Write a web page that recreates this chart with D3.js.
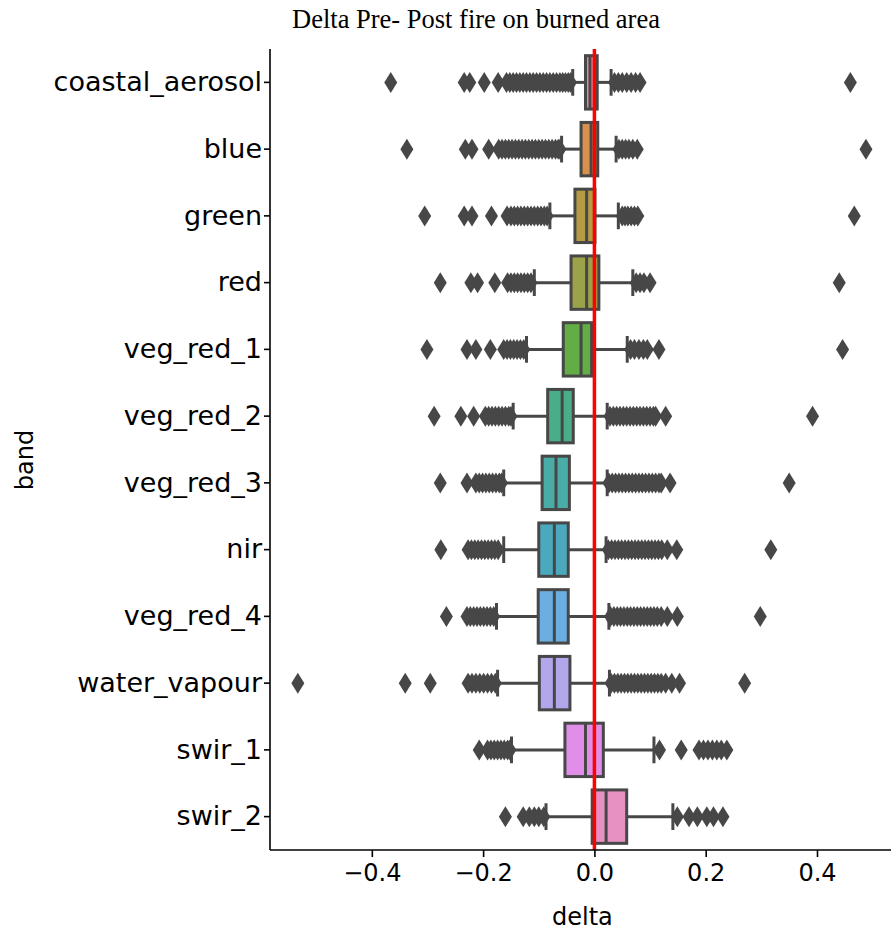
<!DOCTYPE html>
<html>
<head>
<meta charset="utf-8">
<script src="https://cdn.jsdelivr.net/npm/d3@7"></script>
<style>
  body { margin: 0; background: #fff; }
  text { font-family: "DejaVu Sans", sans-serif; }
</style>
</head>
<body>
<div id="chart"></div>
<script>
// band order top to bottom
var bands = ["coastal_aerosol", "blue", "green", "red", "veg_red_1", "veg_red_2",
  "veg_red_3", "nir", "veg_red_4", "water_vapour", "swir_1", "swir_2"];

var boxColors = ["#e38b99", "#d8904f", "#b59a46", "#9ca24a", "#62ad45", "#48ad88",
  "#4aaca6", "#4aa9bd", "#6aaee2", "#b3a6ea", "#e08ee9", "#e791c2"];

var whiskerLow  = [-0.039, -0.059, -0.080, -0.108, -0.122, -0.146, -0.163, -0.163, -0.176, -0.174, -0.149, -0.087];
var q1          = [-0.016, -0.024, -0.035, -0.042, -0.056, -0.084, -0.094, -0.100, -0.101, -0.099, -0.053, -0.004];
var medians     = [-0.008, -0.006, -0.014, -0.014, -0.024, -0.058, -0.069, -0.072, -0.072, -0.072, -0.016, 0.021];
var q3          = [0.005, 0.006, 0.001, 0.008, -0.005, -0.038, -0.045, -0.047, -0.047, -0.044, 0.016, 0.058];
var whiskerHigh = [0.030, 0.039, 0.043, 0.069, 0.059, 0.023, 0.023, 0.021, 0.026, 0.027, 0.107, 0.141];

var outliers = [
  [-0.366, -0.234, -0.224, -0.198, -0.173, -0.158, -0.152, -0.146, -0.140, -0.134, -0.128, -0.122, -0.116, -0.110,
   -0.104, -0.098, -0.092, -0.086, -0.080, -0.074, -0.068, -0.062, -0.057, -0.052, -0.047, -0.043,
   0.036, 0.043, 0.050, 0.058, 0.066, 0.074, 0.082, 0.460],
  [-0.337, -0.232, -0.220, -0.190, -0.172, -0.166, -0.160, -0.154, -0.148, -0.142, -0.136, -0.130, -0.124, -0.118,
   -0.112, -0.106, -0.100, -0.094, -0.088, -0.082, -0.076, -0.070, -0.065, -0.062,
   0.044, 0.050, 0.056, 0.062, 0.069, 0.077, 0.488],
  [-0.305, -0.234, -0.220, -0.185, -0.157, -0.150, -0.144, -0.138, -0.132, -0.126, -0.120, -0.114, -0.108, -0.102,
   -0.096, -0.090, -0.085, 0.050, 0.055, 0.060, 0.066, 0.072, 0.078, 0.467],
  [-0.277, -0.222, -0.210, -0.179, -0.156, -0.150, -0.144, -0.138, -0.132, -0.126, -0.120, -0.114,
   0.075, 0.082, 0.089, 0.100, 0.440],
  [-0.301, -0.229, -0.213, -0.187, -0.163, -0.157, -0.151, -0.145, -0.139, -0.133, -0.127,
   0.065, 0.072, 0.080, 0.088, 0.095, 0.116, 0.446],
  [-0.288, -0.240, -0.217, -0.196, -0.190, -0.184, -0.178, -0.172, -0.166, -0.160, -0.154, -0.150,
   0.028, 0.034, 0.040, 0.046, 0.052, 0.058, 0.064, 0.070, 0.076, 0.082, 0.088, 0.094, 0.100, 0.106, 0.110,
   0.128, 0.392],
  [-0.277, -0.229, -0.213, -0.207, -0.201, -0.195, -0.189, -0.183, -0.177, -0.171, -0.167,
   0.026, 0.032, 0.038, 0.044, 0.050, 0.056, 0.062, 0.068, 0.074, 0.080, 0.086, 0.092, 0.098, 0.104, 0.110,
   0.116, 0.120, 0.136, 0.350],
  [-0.276, -0.227, -0.221, -0.215, -0.209, -0.203, -0.197, -0.191, -0.185, -0.179, -0.173,
   0.025, 0.031, 0.037, 0.043, 0.049, 0.055, 0.061, 0.067, 0.073, 0.079, 0.085, 0.091, 0.097, 0.103, 0.109,
   0.115, 0.121, 0.131, 0.148, 0.317],
  [-0.266, -0.229, -0.223, -0.217, -0.211, -0.205, -0.199, -0.193, -0.187, -0.181,
   0.029, 0.035, 0.041, 0.047, 0.053, 0.059, 0.065, 0.071, 0.077, 0.083, 0.089, 0.095, 0.101, 0.107, 0.113,
   0.120, 0.131, 0.149, 0.298],
  [-0.533, -0.340, -0.295, -0.227, -0.220, -0.213, -0.206, -0.199, -0.192, -0.185, -0.178,
   0.030, 0.036, 0.042, 0.048, 0.054, 0.060, 0.066, 0.072, 0.078, 0.084, 0.090, 0.096, 0.102, 0.108, 0.114,
   0.120, 0.128, 0.139, 0.153, 0.270],
  [-0.207, -0.192, -0.186, -0.180, -0.174, -0.168, -0.162, -0.156, -0.152,
   0.117, 0.156, 0.188, 0.196, 0.204, 0.212, 0.220, 0.228, 0.238],
  [-0.160, -0.128, -0.117, -0.108, -0.100, -0.091,
   0.149, 0.170, 0.185, 0.202, 0.214, 0.231]
];

var xTicks = [-0.4, -0.2, 0.0, 0.2, 0.4];

var W = 891, H = 933;
var m = {top: 49, right: 0, bottom: 83, left: 270};
var edge = "#474747";

var svg = d3.select("#chart").append("svg")
  .attr("width", W)
  .attr("height", H);

var x = d3.scaleLinear().domain([-0.583, 0.533]).range([m.left, W - m.right]);
var y = d3.scaleBand().domain(bands).range([m.top, H - m.bottom]).paddingInner(0.2).paddingOuter(0.1);
var bw = y.bandwidth();

var rows = bands.map(function(b, i) {
  return {band: b, color: boxColors[i], lo: whiskerLow[i], q1: q1[i], med: medians[i],
    q3: q3[i], hi: whiskerHigh[i], out: outliers[i]};
});

var plot = svg.append("g");

var row = plot.selectAll(".row").data(rows).enter().append("g")
  .attr("class", "row")
  .attr("transform", function(d) { return "translate(0," + (y(d.band) + bw / 2) + ")"; });

// whiskers
row.append("line")
  .attr("x1", function(d) { return x(d.lo); })
  .attr("x2", function(d) { return x(d.q1); })
  .attr("stroke", edge).attr("stroke-width", 3);
row.append("line")
  .attr("x1", function(d) { return x(d.q3); })
  .attr("x2", function(d) { return x(d.hi); })
  .attr("stroke", edge).attr("stroke-width", 3);
// caps
row.selectAll(".cap").data(function(d) { return [d.lo, d.hi]; }).enter().append("line")
  .attr("class", "cap")
  .attr("x1", function(v) { return x(v); })
  .attr("x2", function(v) { return x(v); })
  .attr("y1", -bw / 4).attr("y2", bw / 4)
  .attr("stroke", edge).attr("stroke-width", 3);

// outliers (thin diamonds)
var dw = 6.5, dh = 10.5;
row.selectAll(".flier").data(function(d) { return d.out; }).enter().append("path")
  .attr("class", "flier")
  .attr("d", function(v) {
    var cx = x(v);
    return "M" + cx + "," + (-dh) + "L" + (cx + dw) + ",0L" + cx + "," + dh + "L" + (cx - dw) + ",0Z";
  })
  .attr("fill", edge);

// boxes
row.append("rect")
  .attr("x", function(d) { return x(d.q1); })
  .attr("width", function(d) { return x(d.q3) - x(d.q1); })
  .attr("y", -bw / 2)
  .attr("height", bw)
  .attr("fill", function(d) { return d.color; })
  .attr("stroke", edge).attr("stroke-width", 3);
row.append("line")
  .attr("x1", function(d) { return x(d.med); })
  .attr("x2", function(d) { return x(d.med); })
  .attr("y1", -bw / 2).attr("y2", bw / 2)
  .attr("stroke", edge).attr("stroke-width", 3);

// red zero line
plot.append("line")
  .attr("x1", x(0)).attr("x2", x(0))
  .attr("y1", m.top).attr("y2", H - m.bottom)
  .attr("stroke", "#ff0000").attr("stroke-width", 3.5);

// axes
var xAxis = svg.append("g")
  .attr("transform", "translate(0," + (H - m.bottom) + ")")
  .call(d3.axisBottom(x).tickValues(xTicks).tickSize(7).tickPadding(7)
    .tickFormat(function(d) { return d3.format(".1f")(d).replace("-", "\u2212"); }));
var yAxis = svg.append("g")
  .attr("transform", "translate(" + m.left + ",0)")
  .call(d3.axisLeft(y).tickSize(6).tickPadding(2));

[xAxis, yAxis].forEach(function(a) {
  a.select(".domain").attr("stroke", "#000").attr("stroke-width", 1.6);
  a.selectAll(".tick line").attr("stroke", "#000").attr("stroke-width", 1.6);
  a.selectAll(".tick text").attr("fill", "#000")
    .style("font-family", "'DejaVu Sans', sans-serif");
});
xAxis.selectAll(".tick text").style("font-size", "24px");
yAxis.selectAll(".tick text").style("font-size", "27px");
// keep the axis lines to the plot extent like matplotlib
xAxis.select(".domain").attr("d", "M" + m.left + ",0H" + (W - m.right));
yAxis.select(".domain").attr("d", "M0," + m.top + "V" + (H - m.bottom));

svg.append("text")
  .attr("x", x(0) - 12).attr("y", 925)
  .attr("text-anchor", "middle")
  .style("font-size", "24px")
  .text("delta");

svg.append("text")
  .attr("transform", "translate(33,460) rotate(-90)")
  .attr("text-anchor", "middle")
  .style("font-size", "24px")
  .text("band");

svg.append("text")
  .attr("x", 476).attr("y", 28)
  .attr("text-anchor", "middle")
  .style("font-family", "'Liberation Serif', serif")
  .style("font-size", "26.5px")
  .text("Delta Pre- Post fire on burned area");
</script>
</body>
</html>
